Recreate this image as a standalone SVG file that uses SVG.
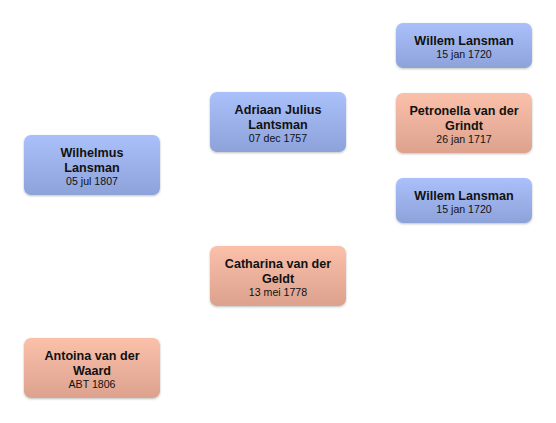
<svg xmlns="http://www.w3.org/2000/svg" width="556" height="423" viewBox="0 0 556 423">
<defs>
<linearGradient id="gm" x1="0" y1="0" x2="0" y2="1">
<stop offset="0" stop-color="#aac0fa"/>
<stop offset="1" stop-color="#8ea2da"/>
</linearGradient>
<linearGradient id="gf" x1="0" y1="0" x2="0" y2="1">
<stop offset="0" stop-color="#fac0aa"/>
<stop offset="1" stop-color="#dca28e"/>
</linearGradient>
<filter id="sh" x="-10%" y="-10%" width="120%" height="130%">
<feDropShadow dx="0" dy="1" stdDeviation="1" flood-color="#000" flood-opacity="0.25"/>
</filter>
</defs>
<style>
.m{fill:url(#gm);filter:url(#sh)}
.f{fill:url(#gf);filter:url(#sh)}
.n{font-family:"Liberation Sans",Arial,sans-serif;font-weight:bold;font-size:12.6px;fill:#111;text-anchor:middle}
.d{font-family:"Liberation Sans",Arial,sans-serif;font-size:10.6px;fill:#111;text-anchor:middle}
</style>
<rect width="556" height="423" fill="#fff"/>
<g id="connectors"/>
<g id="wilhelmus">
<rect class="m" x="24" y="135" width="136" height="60" rx="7"/>
<text class="n" x="92" y="157">Wilhelmus</text>
<text class="n" x="92" y="172">Lansman</text>
<text class="d" x="92" y="185">05 jul 1807</text>
</g>
<g id="antoina">
<rect class="f" x="24" y="338" width="136" height="60" rx="7"/>
<text class="n" x="92" y="360">Antoina van der</text>
<text class="n" x="92" y="375">Waard</text>
<text class="d" x="92" y="388">ABT 1806</text>
</g>
<g id="adriaan">
<rect class="m" x="210" y="92" width="136" height="60" rx="7"/>
<text class="n" x="278" y="114">Adriaan Julius</text>
<text class="n" x="278" y="129">Lantsman</text>
<text class="d" x="278" y="142">07 dec 1757</text>
</g>
<g id="catharina">
<rect class="f" x="210" y="246" width="136" height="60" rx="7"/>
<text class="n" x="278" y="268">Catharina van der</text>
<text class="n" x="278" y="283">Geldt</text>
<text class="d" x="278" y="296">13 mei 1778</text>
</g>
<g id="willem1">
<rect class="m" x="396" y="23" width="136" height="45" rx="7"/>
<text class="n" x="464" y="45">Willem Lansman</text>
<text class="d" x="464" y="58">15 jan 1720</text>
</g>
<g id="petronella">
<rect class="f" x="396" y="93" width="136" height="60" rx="7"/>
<text class="n" x="464" y="115">Petronella van der</text>
<text class="n" x="464" y="130">Grindt</text>
<text class="d" x="464" y="143">26 jan 1717</text>
</g>
<g id="willem2">
<rect class="m" x="396" y="178" width="136" height="45" rx="7"/>
<text class="n" x="464" y="200">Willem Lansman</text>
<text class="d" x="464" y="213">15 jan 1720</text>
</g>
</svg>
